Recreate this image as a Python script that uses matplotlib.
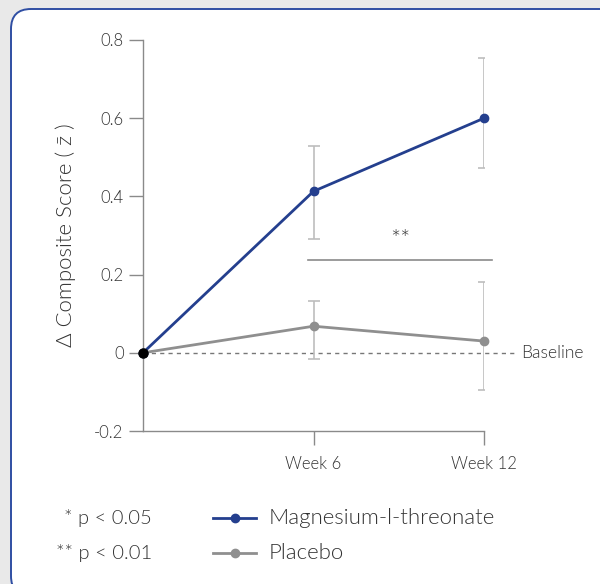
import numpy as np
import matplotlib
matplotlib.use("Agg")
import matplotlib.pyplot as plt
from matplotlib.patches import FancyBboxPatch
from matplotlib.lines import Line2D
from matplotlib.transforms import IdentityTransform

plt.rcParams['font.family'] = ['Lato', 'DejaVu Sans']
plt.rcParams['font.weight'] = 300
plt.rcParams['axes.labelweight'] = 300

# data (weeks, mean change in composite z score, error bar ends)
weeks = [0, 6, 12]
week_labels = ['Week 6', 'Week 12']
mg_mean = [0.0, 0.413, 0.600]
mg_low = [0.0, 0.290, 0.472]
mg_high = [0.0, 0.530, 0.753]
pl_mean = [0.0, 0.068, 0.030]
pl_low = [0.0, -0.017, -0.094]
pl_high = [0.0, 0.132, 0.180]
sig_y = 0.238
sig_span = [5.8, 12.28]

blue = '#243f8e'
gray = '#8f8f8f'
err_gray = '#bdbdbd'
text_col = '#333333'

fig = plt.figure(figsize=(6, 5.84), dpi=100)
fig.patch.set_facecolor('#e9e9e9')

# white card with rounded corners
card = FancyBboxPatch((11, -12), 620, 584 - 9 + 12,
                      boxstyle="round,pad=0,rounding_size=20",
                      transform=IdentityTransform(), facecolor='white',
                      edgecolor='#2f4ea3', linewidth=1.4, zorder=-10)
fig.patches.append(card)

ax = fig.add_axes([143 / 600, 1 - 431 / 584, 341 / 600, (431 - 40) / 584])
ax.set_facecolor('none')
ax.set_zorder(1)
ax.set_xlim(0, 12)
ax.set_ylim(-0.2, 0.8)

for s in ['top', 'right']:
    ax.spines[s].set_visible(False)
for s in ['left', 'bottom']:
    ax.spines[s].set_color('#8a8a8a')
    ax.spines[s].set_linewidth(1.0)

ax.set_yticks([-0.2, 0, 0.2, 0.4, 0.6, 0.8])
ax.set_yticklabels(['-0.2', '0', '0.2', '0.4', '0.6', '0.8'])
ax.set_xticks(weeks[1:])
ax.set_xticklabels(week_labels)
ax.tick_params(axis='both', direction='out', length=10, width=1.0,
               color='#8a8a8a', labelcolor=text_col, labelsize=12, pad=4)
ax.tick_params(axis='x', pad=8)

ax.set_ylabel('\u0394 Composite Score ( z\u0304 )', fontsize=16,
              color=text_col, labelpad=13)

# baseline
ax.plot([0, 13.1], [0, 0], ls=(0, (3, 3)), color='#777777', lw=1.0,
        clip_on=False, zorder=2)
ax.text(13.3, 0, 'Baseline', va='center', ha='left', fontsize=12.5,
        color=text_col, clip_on=False)

# error bars
for m, lo, hi in [(pl_mean, pl_low, pl_high), (mg_mean, mg_low, mg_high)]:
    m = np.array(m)
    yerr = [m[1:] - np.array(lo[1:]), np.array(hi[1:]) - m[1:]]
    ax.errorbar(weeks[1:], m[1:], yerr=yerr, fmt='none', ecolor=err_gray,
                elinewidth=1.2, capsize=4, capthick=1.2, zorder=3)

ax.plot(weeks, pl_mean, color=gray, lw=2.0, marker='o', ms=6, zorder=4,
        clip_on=False)
ax.plot(weeks, mg_mean, color=blue, lw=2.0, marker='o', ms=6, zorder=5,
        clip_on=False)
ax.plot([0], [0], marker='o', color='black', ms=6.5, zorder=6, clip_on=False)

# significance bracket
ax.plot(sig_span, [sig_y, sig_y], color='#8a8a8a', lw=1.2, clip_on=False)
ax.text(np.mean(sig_span), sig_y + 0.022, '**', ha='center', va='bottom',
        fontsize=17, color=text_col)

# legend area
fig.text(152 / 600, 1 - 518 / 584, '* p < 0.05', ha='right', va='center',
         fontsize=14.5, color=text_col)
fig.text(152 / 600, 1 - 553 / 584, '** p < 0.01', ha='right', va='center',
         fontsize=14.5, color=text_col)
for yy, c, lab in [(518, blue, 'Magnesium-l-threonate'), (553, gray, 'Placebo')]:
    fy = 1 - yy / 584
    fig.add_artist(Line2D([213 / 600, 256 / 600], [fy, fy], color=c, lw=2.0,
                          transform=fig.transFigure))
    fig.add_artist(Line2D([234.5 / 600], [fy], color=c, marker='o', ms=6,
                          transform=fig.transFigure))
    fig.text(269 / 600, fy, lab, ha='left', va='center', fontsize=16,
             color=text_col)

fig.savefig('out.png', dpi=100, facecolor=fig.get_facecolor())
